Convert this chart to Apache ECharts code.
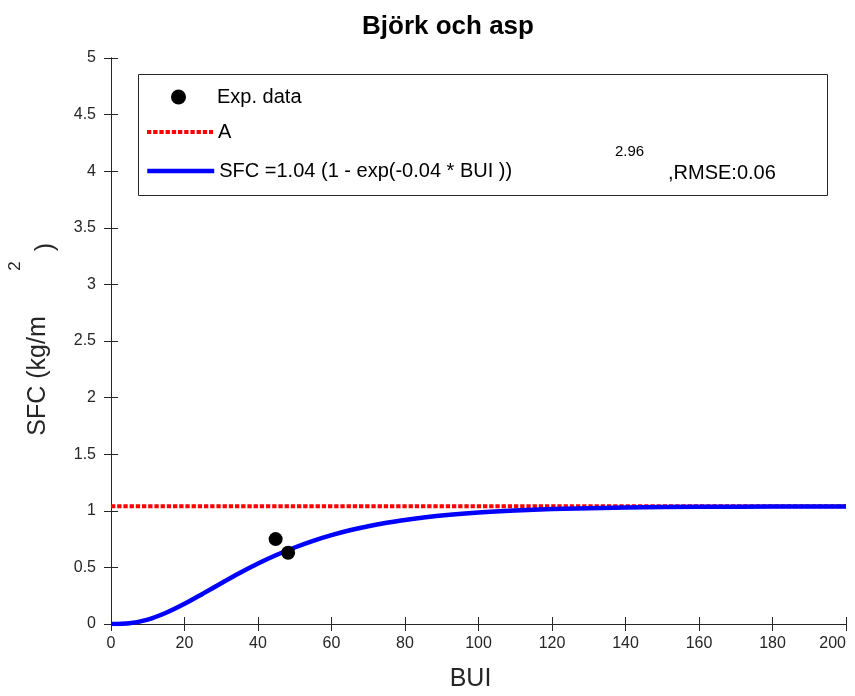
<!DOCTYPE html>
<html>
<head>
<meta charset="utf-8">
<script src="https://cdn.jsdelivr.net/npm/echarts@6/dist/echarts.min.js"></script>
<style>
  html, body { margin: 0; padding: 0; background: #fff; }
  #chart { width: 855px; height: 696px; }
</style>
</head>
<body>
<div id="chart"></div>
<script>
// Björk och asp - SFC mot BUI

var expBui = [44.8, 48.2];
var expSfc = [0.75, 0.63];

var aBui = [0, 200];
var aSfc = [1.04, 1.04];

var fitBui = [0, 5, 10, 15, 20, 25, 30, 35, 40, 45, 50, 55, 60, 65, 70, 75, 80, 90, 100, 110, 120, 140, 160, 180, 200];
var fitSfc = [0, 0.007, 0.039, 0.099, 0.178, 0.268, 0.360, 0.450, 0.534, 0.609, 0.676, 0.735, 0.785, 0.828, 0.864, 0.894, 0.919, 0.958, 0.985, 1.003, 1.015, 1.029, 1.035, 1.038, 1.039];

var fitName = 'SFC =1.04 (1 - exp(-0.04 * BUI ))';
var fitExp = '2.96';
var fitRmse = ',RMSE:0.06';

function pairs(xs, ys) {
    var out = [];
    for (var i = 0; i < xs.length; i++) out.push([xs[i], ys[i]]);
    return out;
}

var font = '"Liberation Sans", Arial, Helvetica, sans-serif';
var axisColor = '#262626';

var chart = echarts.init(document.getElementById('chart'));

var option = {
    animation: false,
    textStyle: { fontFamily: font },
    title: {
        text: 'Björk och asp',
        left: 362,
        top: 14,
        padding: 0,
        textStyle: { fontSize: 26, fontWeight: 'bold', color: '#000', fontFamily: font }
    },
    grid: { left: 111, right: 9, top: 58, bottom: 72, containLabel: false, outerBoundsMode: 'none' },
    legend: [
        {
            data: ['Exp. data'],
            orient: 'vertical', left: 171, top: 87, padding: 0,
            itemWidth: 67, itemHeight: 15, selectedMode: false,
            textStyle: { fontSize: 20, color: '#000', fontFamily: font }
        },
        {
            data: ['A'],
            orient: 'vertical', left: 145, top: 122, padding: 0,
            itemWidth: 66, itemHeight: 14, selectedMode: false,
            itemStyle: { opacity: 0 },
            lineStyle: { width: 4 },
            textStyle: { fontSize: 20, color: '#000', fontFamily: font }
        },
        {
            data: [fitName],
            orient: 'vertical', left: 145, top: 161, padding: 0,
            itemWidth: 67, itemHeight: 14, selectedMode: false,
            itemStyle: { opacity: 0 },
            lineStyle: { width: 4.5 },
            textStyle: { fontSize: 20, color: '#000', fontFamily: font }
        }
    ],
    xAxis: [
        {
            type: 'value', min: 0, max: 200, interval: 20, position: 'bottom',
            name: 'BUI', nameLocation: 'middle', nameGap: 43,
            nameTextStyle: { fontSize: 25, color: axisColor, padding: [0, 16, 0, 0] },
            axisLine: { show: true, lineStyle: { color: axisColor, width: 1 } },
            axisTick: { show: true, inside: true, length: 7, lineStyle: { color: axisColor } },
            axisLabel: { fontSize: 16, color: axisColor, margin: 12, alignMaxLabel: 'right' },
            splitLine: { show: false }
        },
        {
            type: 'value', min: 0, max: 200, interval: 20, position: 'top',
            axisLine: { show: true, lineStyle: { color: axisColor, width: 1 } },
            axisTick: { show: true, inside: true, length: 7, lineStyle: { color: axisColor } },
            axisLabel: { show: false },
            splitLine: { show: false }
        }
    ],
    yAxis: [
        {
            type: 'value', min: 0, max: 5, interval: 0.5, position: 'left',
            name: 'SFC (kg/m', nameLocation: 'middle', nameGap: 60,
            nameTextStyle: { fontSize: 25, color: axisColor, padding: [0, 70, 0, 0] },
            axisLine: { show: true, lineStyle: { color: axisColor, width: 1 } },
            axisTick: { show: true, inside: true, length: 7, lineStyle: { color: axisColor } },
            axisLabel: { fontSize: 16, color: axisColor, margin: 15 },
            splitLine: { show: false }
        },
        {
            type: 'value', min: 0, max: 5, interval: 0.5, position: 'right',
            axisLine: { show: true, lineStyle: { color: axisColor, width: 1 } },
            axisTick: { show: true, inside: true, length: 7, lineStyle: { color: axisColor } },
            axisLabel: { show: false },
            splitLine: { show: false }
        }
    ],
    graphic: [
        {
            type: 'rect', z: 1,
            shape: { x: 138.5, y: 74.5, width: 689, height: 121 },
            style: { fill: '#fff', stroke: axisColor, lineWidth: 1 }
        },
        {
            type: 'text', z: 5, x: 615, y: 152,
            style: { text: fitExp, fill: '#000', font: '15px ' + font, verticalAlign: 'middle' }
        },
        {
            type: 'text', z: 5, x: 668, y: 173,
            style: { text: fitRmse, fill: '#000', font: '20px ' + font, verticalAlign: 'middle' }
        },
        {
            type: 'text', z: 5, x: 15, y: 266, rotation: Math.PI / 2,
            style: { text: '2', fill: axisColor, font: '17px ' + font, align: 'center', verticalAlign: 'middle' }
        },
        {
            type: 'text', z: 5, x: 46, y: 247, rotation: Math.PI / 2,
            style: { text: ')', fill: axisColor, font: '25px ' + font, align: 'center', verticalAlign: 'middle' }
        }
    ],
    series: [
        {
            name: 'A',
            type: 'line',
            data: pairs(aBui, aSfc),
            symbol: 'none',
            lineStyle: { color: '#ff0000', width: 4, type: [4.3, 1.9], cap: 'butt' },
            itemStyle: { color: '#ff0000' },
            z: 2
        },
        {
            name: fitName,
            type: 'line',
            data: pairs(fitBui, fitSfc),
            symbol: 'none',
            smooth: 0.3,
            lineStyle: { color: '#0000ff', width: 4.5 },
            itemStyle: { color: '#0000ff' },
            z: 3
        },
        {
            name: 'Exp. data',
            type: 'scatter',
            data: pairs(expBui, expSfc),
            symbol: 'circle',
            symbolSize: 14,
            itemStyle: { color: '#000', opacity: 1 },
            z: 4
        }
    ]
};

chart.setOption(option);
</script>
</body>
</html>
